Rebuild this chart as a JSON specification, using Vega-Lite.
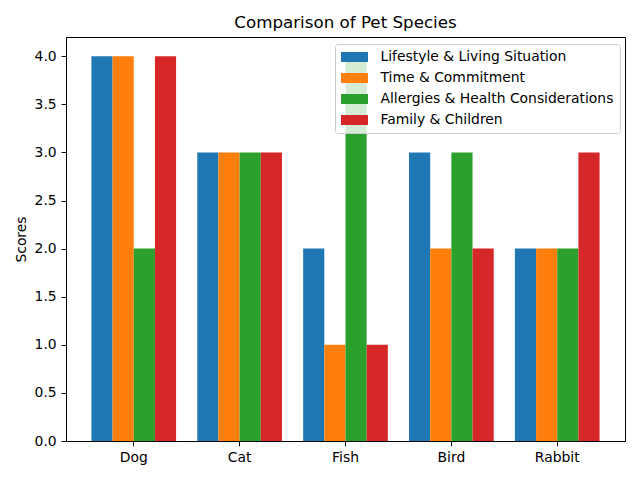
{
  "$schema": "https://vega.github.io/schema/vega-lite/v6.json",
  "width": 559,
  "height": 404,
  "autosize": "none",
  "padding": {"left": 66, "top": 37, "right": 15, "bottom": 39},
  "background": "white",
  "config": {
    "font": "DejaVu Sans",
    "view": {"stroke": "black", "strokeWidth": 1},
    "axis": {
      "domainColor": "black",
      "tickColor": "black",
      "labelColor": "black",
      "titleColor": "black",
      "labelFontSize": 13.9,
      "titleFontSize": 13.9,
      "titleFontWeight": "normal",
      "tickSize": 4.9,
      "labelPadding": 4.9,
      "grid": false
    }
  },
  "title": {"text": "Comparison of Pet Species", "fontSize": 16.7, "fontWeight": "normal", "offset": 5, "color": "black"},
  "data": {
    "values": [
      {"pet": "Dog", "factor": "Lifestyle & Living Situation", "score": 4},
      {"pet": "Dog", "factor": "Time & Commitment", "score": 4},
      {"pet": "Dog", "factor": "Allergies & Health Considerations", "score": 2},
      {"pet": "Dog", "factor": "Family & Children", "score": 4},
      {"pet": "Cat", "factor": "Lifestyle & Living Situation", "score": 3},
      {"pet": "Cat", "factor": "Time & Commitment", "score": 3},
      {"pet": "Cat", "factor": "Allergies & Health Considerations", "score": 3},
      {"pet": "Cat", "factor": "Family & Children", "score": 3},
      {"pet": "Fish", "factor": "Lifestyle & Living Situation", "score": 2},
      {"pet": "Fish", "factor": "Time & Commitment", "score": 1},
      {"pet": "Fish", "factor": "Allergies & Health Considerations", "score": 4},
      {"pet": "Fish", "factor": "Family & Children", "score": 1},
      {"pet": "Bird", "factor": "Lifestyle & Living Situation", "score": 3},
      {"pet": "Bird", "factor": "Time & Commitment", "score": 2},
      {"pet": "Bird", "factor": "Allergies & Health Considerations", "score": 3},
      {"pet": "Bird", "factor": "Family & Children", "score": 2},
      {"pet": "Rabbit", "factor": "Lifestyle & Living Situation", "score": 2},
      {"pet": "Rabbit", "factor": "Time & Commitment", "score": 2},
      {"pet": "Rabbit", "factor": "Allergies & Health Considerations", "score": 2},
      {"pet": "Rabbit", "factor": "Family & Children", "score": 3}
    ]
  },
  "mark": {"type": "bar"},
  "encoding": {
    "x": {
      "field": "pet", "type": "nominal",
      "sort": ["Dog", "Cat", "Fish", "Bird", "Rabbit"],
      "scale": {"paddingInner": 0.2, "paddingOuter": 0.24},
      "axis": {"title": null, "labelAngle": 0}
    },
    "xOffset": {
      "field": "factor", "type": "nominal",
      "sort": ["Lifestyle & Living Situation", "Time & Commitment", "Allergies & Health Considerations", "Family & Children"],
      "scale": {"paddingInner": 0, "paddingOuter": 0}
    },
    "y": {
      "field": "score", "type": "quantitative",
      "scale": {"domain": [0, 4.2], "nice": false},
      "axis": {"title": "Scores", "values": [0, 0.5, 1, 1.5, 2, 2.5, 3, 3.5, 4], "format": ".1f", "titlePadding": 6}
    },
    "color": {
      "field": "factor", "type": "nominal",
      "scale": {
        "domain": ["Lifestyle & Living Situation", "Time & Commitment", "Allergies & Health Considerations", "Family & Children"],
        "range": ["#1f77b4", "#ff7f0e", "#2ca02c", "#d62728"]
      },
      "legend": {
        "title": null,
        "orient": "none",
        "legendX": 269,
        "legendY": 7,
        "fillColor": "rgba(255,255,255,0.8)",
        "strokeColor": "#cccccc",
        "cornerRadius": 3,
        "padding": 6,
        "symbolType": "M-2,-0.74H2V0.74H-2Z",
        "symbolSize": 182,
        "symbolOffset": 6.5,
        "symbolStrokeWidth": 0,
        "symbolOpacity": 1,
        "labelFontSize": 13.9,
        "labelColor": "black",
        "labelLimit": 0,
        "labelOffset": 19,
        "rowPadding": 7
      }
    }
  }
}
